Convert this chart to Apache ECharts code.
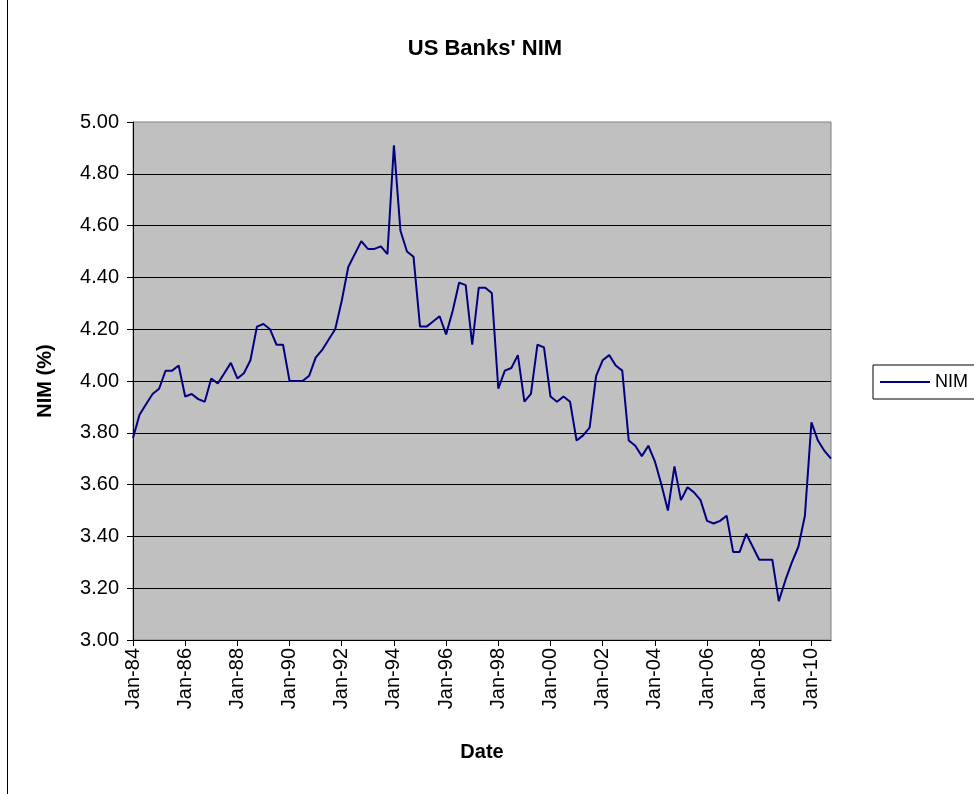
<!DOCTYPE html>
<html>
<head>
<meta charset="utf-8">
<script src="https://cdn.jsdelivr.net/npm/echarts@6/dist/echarts.min.js"></script>
<style>
  html, body { margin: 0; padding: 0; background: #fff; }
  #main { width: 974px; height: 794px; }
</style>
</head>
<body>
<div id="main"></div>
<script>
// quarterly NIM, Jan-84 .. Oct-10
var years = [];
for (var y = 1984; y <= 2010; y++) years.push(y);
var months = ['Jan', 'Apr', 'Jul', 'Oct'];

var nim = [
    3.78, 3.87, 3.91, 3.95, 3.97, 4.04, 4.04, 4.06,
    3.94, 3.95, 3.93, 3.92, 4.01, 3.99, 4.03, 4.07,
    4.01, 4.03, 4.08, 4.21, 4.22, 4.20, 4.14, 4.14,
    4.00, 4.00, 4.00, 4.02, 4.09, 4.12, 4.16, 4.20,
    4.31, 4.44, 4.49, 4.54, 4.51, 4.51, 4.52, 4.49,
    4.91, 4.58, 4.50, 4.48, 4.21, 4.21, 4.23, 4.25,
    4.18, 4.27, 4.38, 4.37, 4.14, 4.36, 4.36, 4.34,
    3.97, 4.04, 4.05, 4.10, 3.92, 3.95, 4.14, 4.13,
    3.94, 3.92, 3.94, 3.92, 3.77, 3.79, 3.82, 4.02,
    4.08, 4.10, 4.06, 4.04, 3.77, 3.75, 3.71, 3.75,
    3.69, 3.60, 3.50, 3.67, 3.54, 3.59, 3.57, 3.54,
    3.46, 3.45, 3.46, 3.48, 3.34, 3.34, 3.41, 3.36,
    3.31, 3.31, 3.31, 3.15, 3.23, 3.30, 3.36, 3.48,
    3.84, 3.77, 3.73, 3.70
];

var dates = [];
for (var i = 0; i < years.length; i++) {
    for (var m = 0; m < months.length; m++) {
        dates.push(months[m] + '-' + String(years[i]).slice(2));
    }
}

var chart = echarts.init(document.getElementById('main'));
var font = 'Liberation Sans, Arial, sans-serif';

var option = {
    animation: false,
    title: {
        text: "US Banks' NIM",
        left: 480,
        top: 33,
        textAlign: 'center',
        textStyle: { fontFamily: font, fontSize: 22, fontWeight: 'bold', color: '#000' }
    },
    legend: {
        data: [{ name: 'NIM', icon: 'rect' }],
        left: 873,
        top: 365,
        orient: 'vertical',
        borderColor: '#000',
        borderWidth: 1,
        borderRadius: 0,
        padding: [8, 40, 8, 7],
        itemWidth: 50,
        itemHeight: 2,
        itemGap: 5,
        textStyle: { fontFamily: font, fontSize: 18, color: '#000' }
    },
    grid: {
        left: 133,
        top: 122,
        right: 143,
        bottom: 154,
        show: true,
        backgroundColor: '#C0C0C0',
        borderColor: '#808080',
        borderWidth: 1
    },
    xAxis: {
        type: 'category',
        data: dates,
        boundaryGap: false,
        name: 'Date',
        nameLocation: 'middle',
        nameGap: 102,
        nameTextStyle: { fontFamily: font, fontSize: 20, fontWeight: 'bold', color: '#000' },
        axisLine: { lineStyle: { color: '#000', width: 1 } },
        axisTick: { interval: 7, length: 6, lineStyle: { color: '#000' } },
        axisLabel: {
            interval: 7,
            rotate: 90,
            margin: 8,
            fontFamily: font,
            fontSize: 20,
            color: '#000'
        },
        splitLine: { show: false }
    },
    yAxis: {
        type: 'value',
        min: 3,
        max: 5,
        interval: 0.2,
        name: 'NIM (%)',
        nameLocation: 'middle',
        nameGap: 78,
        nameRotate: 90,
        nameTextStyle: { fontFamily: font, fontSize: 20, fontWeight: 'bold', color: '#000' },
        axisLine: { show: true, lineStyle: { color: '#000', width: 1 } },
        axisTick: { show: true, length: 6, lineStyle: { color: '#000' } },
        axisLabel: {
            margin: 14,
            fontFamily: font,
            fontSize: 20,
            color: '#000',
            formatter: function (v) { return v.toFixed(2); }
        },
        splitLine: {
            show: true,
            showMinLine: false,
            showMaxLine: false,
            lineStyle: { color: '#000', width: 1 }
        }
    },
    series: [{
        name: 'NIM',
        type: 'line',
        data: nim,
        showSymbol: false,
        symbol: 'none',
        lineStyle: { color: '#000080', width: 2 },
        itemStyle: { color: '#000080' }
    }],
    graphic: [{
        type: 'line',
        shape: { x1: 7.5, y1: 0, x2: 7.5, y2: 794 },
        style: { stroke: '#000', lineWidth: 1 }
    }]
};

chart.setOption(option, true);
</script>
</body>
</html>
